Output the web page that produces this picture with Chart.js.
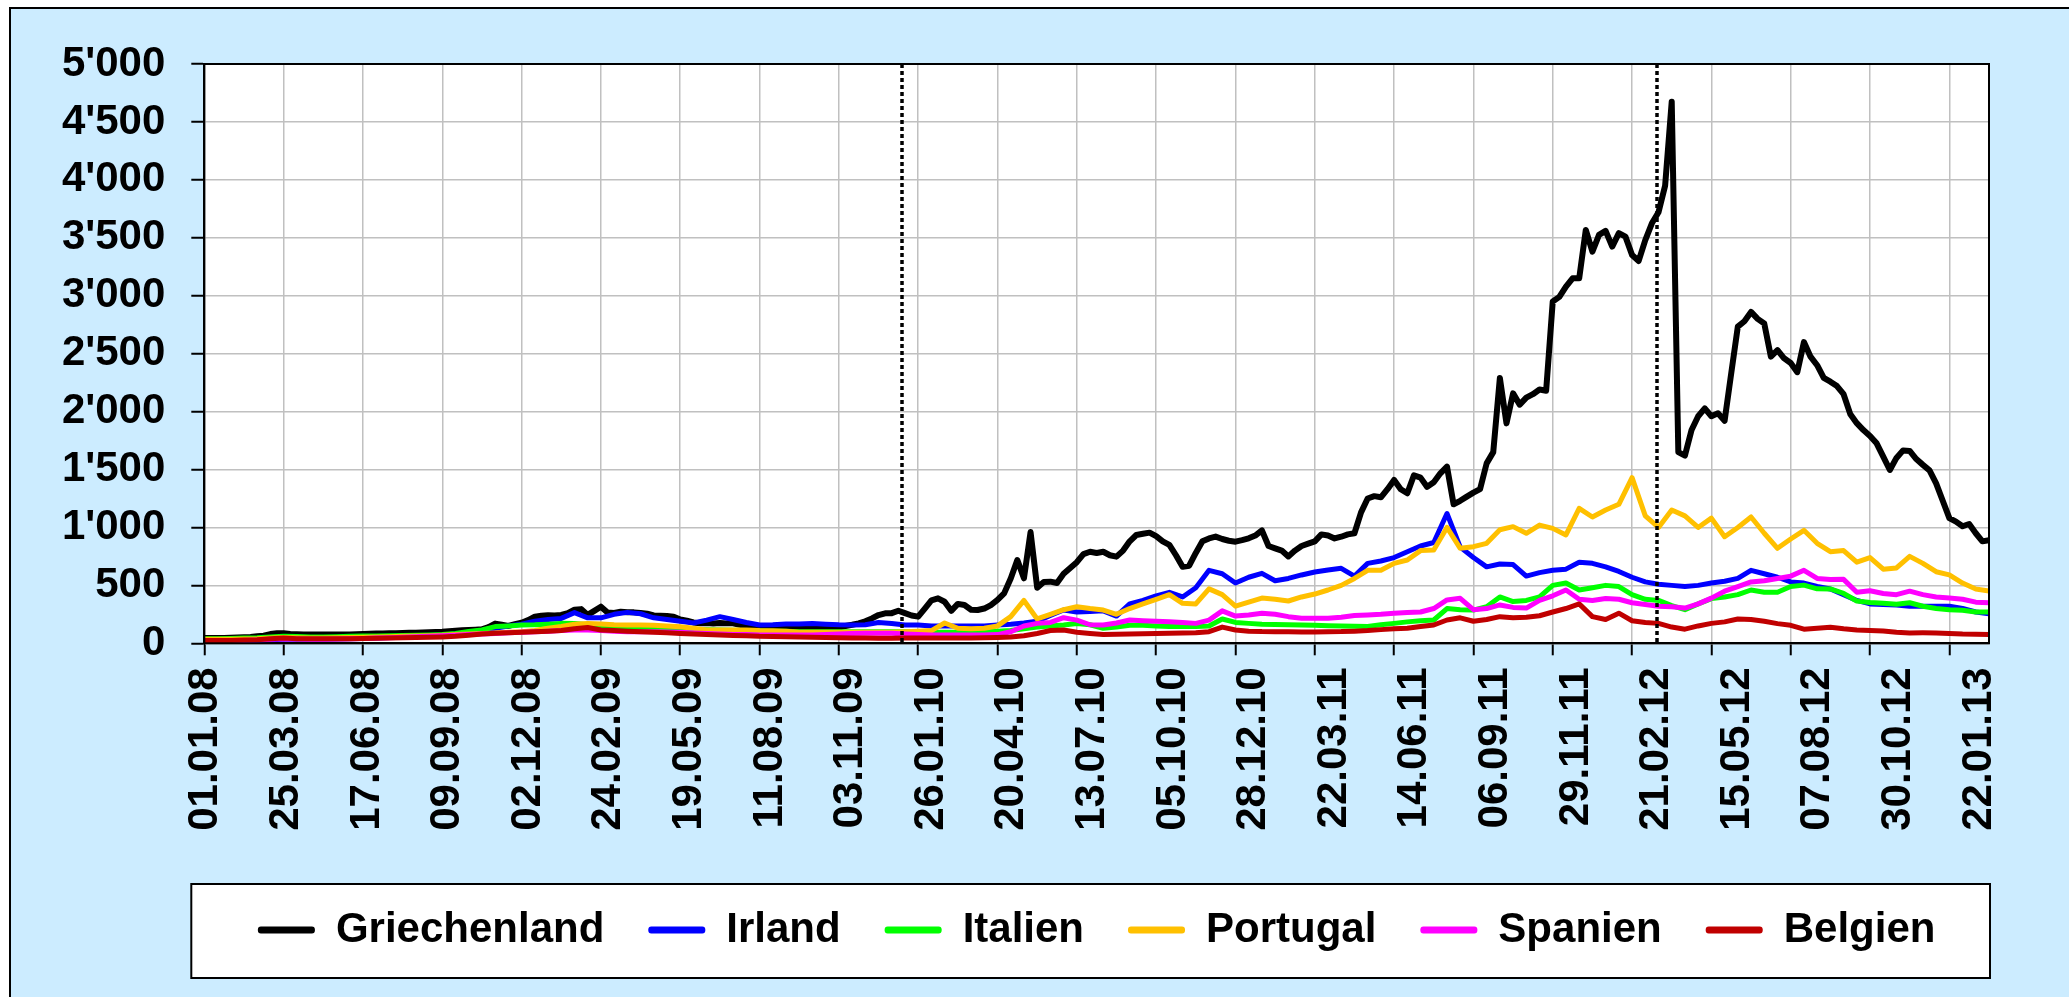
<!DOCTYPE html>
<html><head><meta charset="utf-8">
<script src="https://cdn.jsdelivr.net/npm/chart.js@4/dist/chart.umd.min.js"></script>
<style>
html,body{margin:0;padding:0;background:#fff;width:2069px;height:997px;overflow:hidden}
#frame{position:absolute;left:9px;top:7px;width:2060px;height:990px;box-sizing:border-box;background:#CCECFF;border-left:2px solid #000;border-top:2px solid #000}
#wrap{position:absolute;left:0;top:0;width:2058px;height:988px}
</style></head><body>
<div id="frame"><div id="wrap"><canvas id="c"></canvas></div></div>
<script>
// ---- data ----
const tickLabels = ['01.01.08','25.03.08','17.06.08','09.09.08','02.12.08','24.02.09','19.05.09','11.08.09','03.11.09','26.01.10','20.04.10','13.07.10','05.10.10','28.12.10','22.03.11','14.06.11','06.09.11','29.11.11','21.02.12','15.05.12','07.08.12','30.10.12','22.01.13'];
const tickStep = 60;              // business days between labels
const seriesNames = ['Griechenland','Irland','Italien','Portugal','Spanien','Belgien'];
const greeceStep = 5;             // business days between Greek values
const otherStep = 10;             // business days between other values
const eventIdx = [527.5, 1099];   // dotted event lines (business-day index)

const griechenland = [
 45,45,45,45,48,50,52,55,60,65,80,86,
 86,80,78,76,75,75,75,75,75,75,76,78,
 80,82,84,85,86,87,88,90,92,94,96,98,
 100,105,108,112,115,118,121,140,170,160,150,165,
 178,200,230,238,242,240,245,260,290,295,245,280,
 316,265,262,273,268,267,262,255,240,238,235,230,
 205,195,180,172,175,170,175,172,172,160,150,143,
 135,129,128,130,128,130,129,128,130,128,130,129,
 135,150,160,172,190,215,244,259,260,281,260,240,
 230,300,370,388,359,280,340,330,290,287,300,330,
 374,431,560,719,561,960,480,530,532,520,600,650,
 700,770,790,780,790,760,748,800,880,935,945,955,
 925,880,850,760,660,670,780,880,905,921,900,885,
 877,890,906,930,975,840,820,800,750,800,840,860,
 880,940,930,905,920,940,950,1130,1250,1270,1260,1330,
 1410,1330,1295,1450,1430,1350,1390,1467,1525,1200,1230,1266,
 1300,1330,1553,1650,2290,1898,2157,2060,2120,2150,2190,2180,
 2950,2990,3079,3150,3150,3568,3381,3525,3560,3424,3540,3510,
 3352,3300,3480,3625,3720,3950,4675,1650,1620,1841,1960,2028,
 1960,1985,1920,2330,2733,2780,2860,2800,2760,2474,2531,2460,
 2420,2340,2600,2474,2400,2290,2258,2220,2150,1980,1900,1840,
 1790,1726,1611,1496,1600,1665,1660,1590,1540,1493,1380,1230,
 1080,1050,1010,1030,950,880,890
];
const irland = [
 20,20,20,22,25,30, 35,35,35,35,38,40, 42,45,50,55,60,65, 70,80,95,110,130,150,
 165,190,205,215,265,220, 220,250,267,255,220,205, 190,175,200,230,205,180, 158,160,166,166,170,165,
 160,158,160,180,170,158, 158,150,150,150,150,150, 158,165,175,190,240,287, 270,275,280,235,340,370,
 410,440,400,480,630,600, 520,570,604,540,560,590, 615,633,647,580,690,710, 740,790,840,870,1120,830,
 740,660,685,680,580,610, 630,640,700,690,660,620, 570,530,510,500,490,500, 520,535,560,630,600,570,
 530,520,490,469,420,370, 340,335,330,320,320,320, 320,300,270,254
];
const italien = [
 40,40,42,45,48,55, 60,58,55,55,57,60, 62,64,66,68,70,72, 75,85,101,115,144,150,
 158,160,165,172,170,160, 149,145,140,135,130,129, 125,120,118,115,112,110, 108,105,103,100,100,100,
 100,100,100,100,100,100, 100,95,95,95,95,100, 105,110,125,140,150,158, 170,160,130,140,155,155,
 150,144,145,144,150,210, 180,172,165,162,160,158, 155,152,150,148,145,160, 172,185,195,201,300,290,
 287,316,400,360,370,400, 500,520,460,480,500,490, 420,380,370,325,290,340, 386,400,420,460,440,440,
 490,502,470,469,430,365, 353,345,337,350,320,300, 290,285,271,270
];
const portugal = [
 35,35,35,38,40,45, 50,48,45,45,47,50, 52,55,57,60,62,65, 70,75,80,85,90,95,
 100,110,130,145,165,172, 166,160,158,158,155,150, 143,130,115,115,115,115, 110,108,105,95,95,95,
 95,95,95,95,95,100, 105,110,175,130,125,130, 150,230,370,210,250,290, 316,300,287,250,300,340,
 380,420,345,340,470,420, 320,355,390,380,365,400, 425,460,500,560,630,630, 690,719,800,805,1000,820,
 834,863,980,1007,949,1020, 992,935,1165,1090,1150,1200, 1430,1100,1000,1150,1100,1000, 1080,920,1000,1090,950,820,
 900,975,863,791,800,700, 740,640,650,750,690,618, 590,520,469,452
];
const spanien = [
 20,20,22,25,28,35, 40,38,36,36,38,40, 42,45,48,52,56,60, 65,70,75,80,85,90,
 95,100,105,110,115,115, 110,105,100,100,100,98, 95,90,85,80,77,75, 72,72,72,72,72,75,
 80,85,86,86,86,80, 75,72,72,72,72,72, 75,100,150,172,180,221, 200,160,158,175,201,195,
 190,187,180,172,200,280, 235,245,259,250,230,216, 216,216,225,240,245,250, 259,265,270,300,374,388,
 290,300,331,310,304,370, 410,460,380,370,386,380, 350,335,320,315,304,340, 390,450,490,530,540,560,
 580,630,560,550,552,440, 453,430,420,450,420,400, 390,380,355,350
];
const belgien = [
 25,25,25,28,30,40, 45,40,40,40,40,40, 42,44,45,48,50,52, 55,60,70,80,86,90,
 95,100,105,110,125,137, 115,110,105,100,95,92, 85,80,75,72,68,65, 60,58,57,55,52,50,
 48,45,45,43,43,45, 45,45,45,45,45,47, 50,55,65,85,110,115, 95,85,75,78,80,82,
 85,86,88,92,100,140, 115,105,101,100,100,98, 98,100,101,105,110,118, 125,130,145,158,201,220,
 190,205,230,221,225,238, 270,300,340,230,205,260, 195,180,172,140,122,150, 172,185,210,205,190,170,
 155,122,130,139,125,115, 110,106,95,89,90,89, 85,80,78,75
];

// ---- styling ----
const seriesData = [griechenland, irland, italien, portugal, spanien, belgien];
const seriesStep = [greeceStep, otherStep, otherStep, otherStep, otherStep, otherStep];
const colors = ['#000000','#0000FF','#00FF00','#FFC000','#FF00FF','#C00000'];
const FONT = {family: "'Liberation Sans', Arial, sans-serif", size: 42, weight: 'bold'};
const LEGEND_PAD = 44;

const fmt = v => v >= 1000 ? Math.floor(v/1000) + "'" + String(v % 1000).padStart(3,'0') : String(v);
const buildTicks = s => { s.ticks = tickLabels.map((_, i) => ({value: i * tickStep})); };

const decor = {
  id: 'decor',
  beforeDraw(chart) {
    const {ctx, chartArea: a} = chart;
    ctx.save();
    ctx.fillStyle = '#fff';
    ctx.fillRect(a.left, a.top, a.right - a.left, a.bottom - a.top);
    const lg = chart.legend;
    const cy = lg.top + LEGEND_PAD + FONT.size / 2;
    const bx = a.left - 13, bw = a.right - a.left + 14, by = cy - 46, bh = 94;
    ctx.fillRect(bx, by, bw, bh);
    ctx.lineWidth = 2; ctx.strokeStyle = '#000';
    ctx.strokeRect(bx, by, bw, bh);
    ctx.restore();
  },
  afterDatasetsDraw(chart) {
    const {ctx, chartArea: a, scales} = chart;
    ctx.save();
    ctx.strokeStyle = '#000';
    ctx.lineWidth = 3.5;
    ctx.setLineDash([4, 3]);
    eventIdx.forEach(v => {
      const px = Math.round(scales.x.getPixelForValue(v));
      ctx.beginPath(); ctx.moveTo(px, a.top); ctx.lineTo(px, a.bottom); ctx.stroke();
    });
    ctx.setLineDash([]);
    ctx.lineWidth = 2;
    ctx.strokeRect(a.left, a.top, a.right - a.left, a.bottom - a.top);
    ctx.restore();
  }
};

new Chart(document.getElementById('c'), {
  type: 'line',
  data: {
    datasets: seriesNames.map((n, i) => ({
      label: n,
      data: seriesData[i].map((v, k) => ({x: k * seriesStep[i], y: v})),
      borderColor: colors[i],
      backgroundColor: colors[i],
      borderWidth: i === 0 ? 6 : 5,
      pointRadius: 0,
      tension: 0,
      borderJoinStyle: 'round',
      borderCapStyle: 'round',
      order: seriesNames.length - i,
      xAxisID: 'x', yAxisID: 'y'
    }))
  },
  options: {
    responsive: true, maintainAspectRatio: false, animation: false,
    layout: {padding: {left: 0, right: 80, top: 55, bottom: 36}},
    plugins: {
      tooltip: {enabled: false},
      legend: {
        position: 'bottom', fullSize: false,
        labels: {
          font: FONT, color: '#000', boxWidth: 57, boxHeight: 7, padding: LEGEND_PAD,
          sort: (a, b) => a.datasetIndex - b.datasetIndex,
          generateLabels: chart => Chart.defaults.plugins.legend.labels.generateLabels(chart)
            .map(it => Object.assign(it, {lineWidth: 0, fillStyle: it.strokeStyle, borderRadius: 3}))
        }
      }
    },
    scales: {
      x: {
        type: 'linear', min: 0, max: 1350, weight: 0,
        afterBuildTicks: buildTicks,
        afterFit: s => { s.height = 13; },
        ticks: {display: false},
        grid: {color: '#C0C0C0', lineWidth: 1.5, tickColor: '#000', tickLength: 12, tickWidth: 2},
        border: {color: '#000', width: 2}
      },
      x2: {
        type: 'linear', position: 'bottom', min: -1.1, max: 1327.5, weight: 1,
        afterBuildTicks: buildTicks,
        afterFit: s => { s.height = 208.7; },
        grid: {display: false, drawTicks: false},
        border: {display: false},
        ticks: {font: FONT, color: '#000', minRotation: 90, maxRotation: 90, autoSkip: false, padding: 11,
                callback: (v, i) => tickLabels[i]}
      },
      y: {
        min: 0, max: 5000,
        afterFit: s => { s.width = 193.3; },
        ticks: {stepSize: 500, font: FONT, color: '#000', padding: 26, callback: v => fmt(v)},
        grid: {color: '#C0C0C0', lineWidth: 1.5, tickColor: '#000', tickLength: 13, tickWidth: 2},
        border: {color: '#000', width: 2}
      }
    }
  },
  plugins: [decor]
});
</script>
</body></html>
